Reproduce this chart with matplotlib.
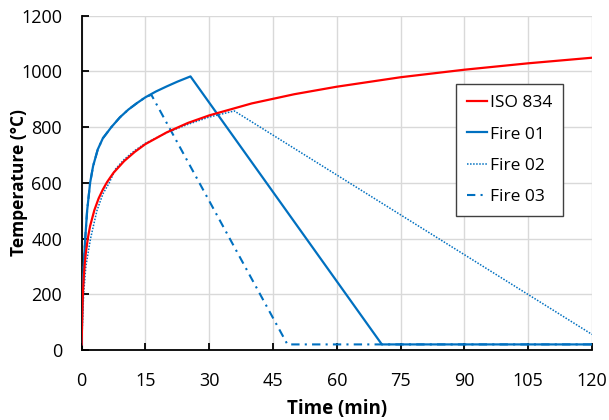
import matplotlib.pyplot as plt

plt.rcParams['font.family'] = ['Open Sans', 'DejaVu Sans']

# ISO 834 standard curve
t_iso = [0, 0.25, 0.5, 0.75, 1, 1.5, 2, 3, 4, 5, 6, 7.5, 10, 12.5, 15, 20, 25,
         30, 40, 50, 60, 75, 90, 105, 120]
T_iso = [20, 184, 261, 310, 349, 404, 445, 502, 544, 576, 603, 636, 678, 711,
         739, 781, 815, 842, 885, 918, 945, 979, 1006, 1029, 1049]

# Fire 01
t_f1 = [0, 0.1, 0.25, 0.5, 0.85, 1.3, 2.0, 2.7, 3.8, 5, 7, 9, 11, 13, 15,
        17.5, 20, 22.5, 25.6, 70.6, 120]
T_f1 = [20, 120, 200, 300, 400, 500, 600, 660, 720, 760, 800, 835, 863, 886, 907,
        928, 946, 963, 982, 20, 20]

# Fire 02
t_f2 = [0, 0.2, 0.47, 1.0, 2.1, 3.6, 5, 6.5, 8, 10, 12.5, 15, 20, 25, 30, 35.9, 120]
T_f2 = [20, 90, 200, 300, 400, 500, 560, 600, 650, 684, 716, 742, 780, 810, 836, 858, 56]

# Fire 03
t_f3 = [0, 0.1, 0.25, 0.5, 0.85, 1.3, 2.0, 2.7, 3.8, 5, 7, 9, 11, 13, 15,
        16.4, 48.4, 120]
T_f3 = [20, 120, 200, 300, 400, 500, 600, 660, 720, 760, 800, 835, 863, 886, 907,
        916, 20, 20]

red = '#FF0000'
blue = '#0070C0'

fig = plt.figure(figsize=(6.09, 4.20), dpi=100)
ax = fig.add_axes([0.134, 0.1667, 0.838, 0.796])

ax.plot(t_iso, T_iso, color=red, lw=1.6, label='ISO 834', zorder=4)
ax.plot(t_f1, T_f1, color=blue, lw=1.6, label='Fire 01', zorder=3)
ax.plot(t_f2, T_f2, color=blue, lw=1.1, ls=(0, (1, 1)), label='Fire 02', zorder=3)
ax.plot(t_f3, T_f3, color=blue, lw=1.5, ls=(0, (4, 2.5, 1, 2.5)), label='Fire 03', zorder=3)

ax.set_xlim(0, 120)
ax.set_ylim(0, 1200)
ax.set_xticks(range(0, 121, 15))
ax.set_yticks(range(0, 1201, 200))
ax.grid(True, color='#D9D9D9', lw=1)
ax.set_axisbelow(True)
for s in ['top', 'right']:
    ax.spines[s].set_visible(False)
for s in ['left', 'bottom']:
    ax.spines[s].set_color('black')
    ax.spines[s].set_linewidth(1.3)
ax.tick_params(direction='in', length=5, width=1.3, labelsize=13)
ax.tick_params(axis='x', pad=16)
ax.tick_params(axis='y', pad=14)

ax.set_xlabel('Time (min)', fontsize=13.5, fontweight='bold', va='top')
ax.set_ylabel('Temperature (°C)', fontsize=12.5, fontweight='bold')
ax.xaxis.set_label_coords(0.5, -0.148)
ax.yaxis.set_label_coords(-0.106, 0.5)

leg = ax.legend(loc='upper left', bbox_to_anchor=(0.733, 0.796), fontsize=12.5,
                frameon=True, fancybox=False, handlelength=1.15, handletextpad=0.15,
                borderpad=0.65, labelspacing=0.87, borderaxespad=0)
leg.get_frame().set_edgecolor('#404040')
leg.get_frame().set_linewidth(1.0)
leg.get_frame().set_alpha(1)

fig.savefig('out.png', dpi=100)
